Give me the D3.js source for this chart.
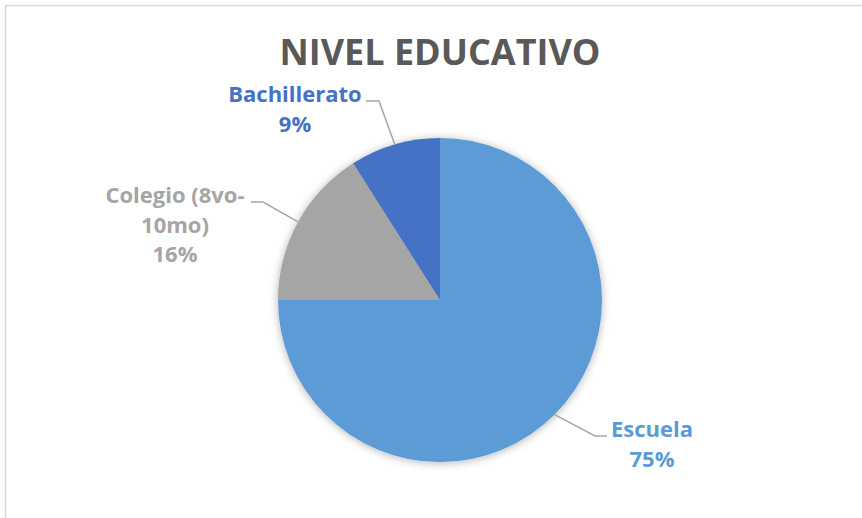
<!DOCTYPE html>
<html>
<head>
<meta charset="utf-8">
<script src="https://cdn.jsdelivr.net/npm/d3@7"></script>
<style>
  body { margin: 0; background: #fff; }
  svg { display: block; }
  text { font-family: "Open Sans", sans-serif; font-weight: bold; }
</style>
</head>
<body>
<div id="chart"></div>
<script>
// data
const categories = ["Escuela", "Colegio (8vo-10mo)", "Bachillerato"];
const values = [75, 16, 9];
const labelLines = [["Escuela"], ["Colegio (8vo-", "10mo)"], ["Bachillerato"]];
const colors = ["#5B9BD5", "#A5A5A5", "#4472C4"];

const data = categories.map((c, i) => ({ name: c, value: values[i], lines: labelLines[i], color: colors[i] }));

/** CONSTANTS */
const width = 862,
    height = 518,
    cx = 440,
    cy = 300,
    radius = 162;

// where each label sits (centre x, first baseline y) and where the leader bends
const labelPos = {
    "Escuela": { x: 652, y: 437, elbow: [595, 436], end: [607, 436] },
    "Colegio (8vo-10mo)": { x: 175, y: 203, elbow: [263, 202], end: [251, 202] },
    "Bachillerato": { x: 295, y: 102, elbow: [379, 101], end: [366, 101] }
};

const svg = d3.select("#chart")
    .append("svg")
    .attr("width", width)
    .attr("height", height)

// drop shadow for the pie
const defs = svg.append("defs")
defs.append("filter")
    .attr("id", "shadow")
    .attr("x", "-20%").attr("y", "-20%")
    .attr("width", "140%").attr("height", "140%")
    .append("feDropShadow")
    .attr("dx", 0)
    .attr("dy", 1)
    .attr("stdDeviation", 4)
    .attr("flood-color", "#000")
    .attr("flood-opacity", 0.3)

// chart border
svg.append("rect")
    .attr("x", 5.5)
    .attr("y", 5.5)
    .attr("width", width + 10)
    .attr("height", height + 10)
    .attr("fill", "none")
    .attr("stroke", "#D9D9D9")
    .attr("stroke-width", 1.5)

// title
svg.append("text")
    .attr("x", cx)
    .attr("y", 65)
    .attr("text-anchor", "middle")
    .attr("font-size", 36)
    .attr("fill", "#595959")
    .text("NIVEL EDUCATIVO")

const pie = d3.pie()
    .sort(null)
    .value(d => d.value)

const arc = d3.arc()
    .innerRadius(0)
    .outerRadius(radius)

const arcs = pie(data)

const g = svg.append("g")
    .attr("transform", `translate(${cx},${cy})`)

g.append("g")
    .attr("filter", "url(#shadow)")
    .selectAll("path")
    .data(arcs)
    .join("path")
    .attr("d", arc)
    .attr("fill", d => d.data.color)

// leader lines
svg.selectAll("polyline.leader")
    .data(arcs)
    .join("polyline")
    .attr("class", "leader")
    .attr("fill", "none")
    .attr("stroke", "#A6A6A6")
    .attr("stroke-width", 1.5)
    .attr("points", d => {
        const a = (d.startAngle + d.endAngle) / 2
        const p = [cx + radius * Math.sin(a), cy - radius * Math.cos(a)]
        const lp = labelPos[d.data.name]
        return [p, lp.elbow, lp.end].map(q => q.join(",")).join(" ")
    })

// labels, one text per line
const labelRows = []
arcs.forEach(d => {
    const lp = labelPos[d.data.name]
    d.data.lines.concat([d.data.value + "%"]).forEach((line, i) => {
        labelRows.push({ text: line, x: lp.x, y: lp.y + i * 29.5, color: d.data.color })
    })
})

svg.selectAll("text.label")
    .data(labelRows)
    .join("text")
    .attr("class", "label")
    .attr("text-anchor", "middle")
    .attr("font-size", 22)
    .attr("x", d => d.x)
    .attr("y", d => d.y)
    .attr("fill", d => d.color)
    .text(d => d.text)
</script>
</body>
</html>
